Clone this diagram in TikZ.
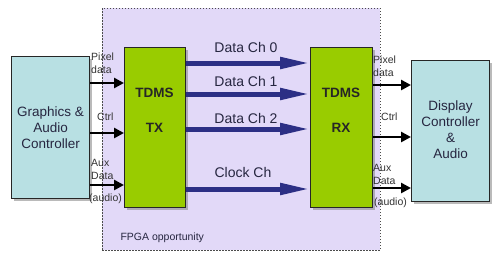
\documentclass[tikz,border=0pt]{standalone}
\usepackage{fontspec}
\setmainfont{Liberation Sans}
\usetikzlibrary{arrows.meta,shadows}
\definecolor{lav}{HTML}{E2D9F8}
\definecolor{cyanbox}{HTML}{B8E0E3}
\definecolor{grn}{HTML}{99CC00}
\definecolor{navy}{HTML}{2C2F85}
\definecolor{txtc}{HTML}{262640}
\begin{document}
\begin{tikzpicture}[x=1pt,y=-1pt,
  fpgabox/.style={draw=black!70,dash pattern=on 1.5pt off 1.5pt,fill=lav,anchor=north west,inner sep=0},
  ctrlbox/.style={draw=black!85,line width=1.2pt,fill=cyanbox,anchor=north west,inner sep=0,
    drop shadow={shadow xshift=2pt,shadow yshift=-2pt,fill=black!45,opacity=0.6}},
  tdmsbox/.style={draw=black!85,line width=1.2pt,fill=grn,anchor=north west,inner sep=0,
    drop shadow={shadow xshift=2pt,shadow yshift=-2pt,fill=black!45,opacity=0.6}},
  bigtxt/.style={font=\fontsize{13.5}{16}\selectfont,text=txtc,align=center},
  boldtxt/.style={font=\fontsize{13.5}{15}\selectfont\bfseries,text=black!85},
  chtxt/.style={font=\fontsize{14}{16}\selectfont,text=txtc},
  smalltxt/.style={font=\fontsize{10.5}{13}\selectfont,text=black!80,align=left,inner sep=0},
  chan/.style={draw=navy,line width=5pt,-{Triangle[length=30pt,width=11pt]}},
  sig/.style={draw=black,line width=2.5pt,-{Triangle[length=10pt,width=10pt]}}
]
\fill[white] (0,0) rectangle (500,258);
\useasboundingbox (0,0) rectangle (500,258);

\node[fpgabox,minimum width=278pt,minimum height=242pt] (fpga) at (102,8) {};
\node[font=\fontsize{10.5}{12}\selectfont,text=txtc,anchor=west] (fpgal) at (117,238) {FPGA opportunity};

\node[ctrlbox,minimum width=78pt,minimum height=142pt] (gfx) at (11,56) {};
\node[bigtxt] (gfxl) at (gfx.center) {Graphics \&\\Audio\\Controller};
\node[ctrlbox,minimum width=78pt,minimum height=141pt] (disp) at (411,60) {};
\node[bigtxt] (displ) at ([yshift=1pt]disp.center) {Display\\Controller\\\&\\Audio};

\node[tdmsbox,minimum width=61pt,minimum height=160pt] (tx) at (124,47) {};
\node[tdmsbox,minimum width=62pt,minimum height=160pt] (rx) at (310,47) {};
\node[boldtxt] (txa) at (154.5,93) {TDMS};
\node[boldtxt] (txb) at (154.5,128) {TX};
\node[boldtxt] (rxa) at (341,93) {TDMS};
\node[boldtxt] (rxb) at (341,128) {RX};

% channel rows
\coordinate (c0) at (0,63);
\coordinate (c1) at (0,94);
\coordinate (c2) at (0,129);
\coordinate (c3) at (0,189);
\draw[chan] (tx.east |- c0) -- (rx.west |- c0);
\draw[chan] (tx.east |- c1) -- (rx.west |- c1);
\draw[chan] (tx.east |- c2) -- (rx.west |- c2);
\draw[chan] (tx.east |- c3) -- (rx.west |- c3);
\node[chtxt] (l0) at (246,47) {Data Ch 0};
\node[chtxt] (l1) at (246,81) {Data Ch 1};
\node[chtxt] (l2) at (246,118) {Data Ch 2};
\node[chtxt] (l3) at (243,172) {Clock Ch};

% left signals
\coordinate (a0) at (0,83);
\coordinate (a1) at (0,133);
\coordinate (a2) at (0,185);
\draw[sig] (gfx.east |- a0) -- (tx.west |- a0);
\draw[sig] (gfx.east |- a1) -- (tx.west |- a1);
\draw[sig] (gfx.east |- a2) -- (tx.west |- a2);
\node[smalltxt,anchor=west] (pl) at (91,63.5) {Pixel\\data};
\node[smalltxt,anchor=west] (cl) at (97,117) {Ctrl};
\node[smalltxt,anchor=west] (al) at (91,169.5) {Aux\\Data};
\node[smalltxt,anchor=west] (aul) at (89,199) {(audio)};

% right signals
\coordinate (b0) at (0,85);
\coordinate (b1) at (0,137);
\coordinate (b2) at (0,188);
\draw[sig] (rx.east |- b0) -- (disp.west |- b0);
\draw[sig] (rx.east |- b1) -- (disp.west |- b1);
\draw[sig] (rx.east |- b2) -- (disp.west |- b2);
\node[smalltxt,anchor=west] (pr) at (373,66.5) {Pixel\\data};
\node[smalltxt,anchor=west] (cr) at (381,117) {Ctrl};
\node[smalltxt,anchor=west] (ar) at (373,174.5) {Aux\\Data};
\node[smalltxt,anchor=west] (aur) at (374,203) {(audio)};
\end{tikzpicture}
\end{document}
